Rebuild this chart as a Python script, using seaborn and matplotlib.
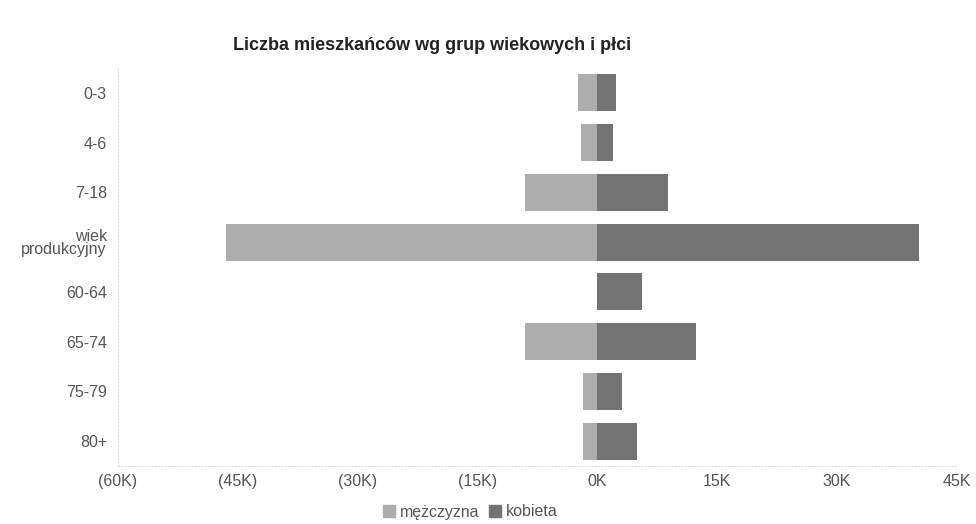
import numpy as np
import pandas as pd
import matplotlib
matplotlib.use("Agg")
import matplotlib.pyplot as plt
import seaborn as sns
from matplotlib.ticker import FuncFormatter
from matplotlib.patches import Patch

# Data (thousands of residents)
age_groups = ["0-3", "4-6", "7-18", "wiek\nprodukcyjny", "60-64", "65-74", "75-79", "80+"]
men = [2.4, 2.1, 9.0, 46.5, 0.0, 9.0, 1.8, 1.8]
women = [2.3, 2.0, 8.8, 40.2, 5.6, 12.3, 3.1, 4.9]
x_ticks = [-60, -45, -30, -15, 0, 15, 30, 45]

male_color = "#adadad"
female_color = "#737373"
text_color = "#555555"

sns.set_theme(style="white")
plt.rcParams["font.family"] = ["Liberation Sans", "DejaVu Sans"]

df = pd.DataFrame({
    "grupa": age_groups * 2,
    "plec": ["mężczyzna"] * len(age_groups) + ["kobieta"] * len(age_groups),
    "liczba": [-v for v in men] + women,
})

fig = plt.figure(figsize=(9.76, 5.24), dpi=100)
ax = fig.add_axes([0.1209, 0.1107, 0.8596, 0.7595])

sns.barplot(data=df, x="liczba", y="grupa", hue="plec", order=age_groups,
            hue_order=["mężczyzna", "kobieta"],
            palette={"mężczyzna": male_color, "kobieta": female_color},
            dodge=False, width=0.74, orient="h", ax=ax, legend=False,
            saturation=1, linewidth=0)

ax.set_xlim(-60, 45)
ax.set_xticks(x_ticks)
ax.xaxis.set_major_formatter(FuncFormatter(
    lambda v, _: f"({abs(v):.0f}K)" if v < 0 else f"{v:.0f}K"))
ax.set_xlabel("")
ax.set_ylabel("")
ax.tick_params(axis="both", length=0, labelsize=11.5, colors=text_color)
ax.tick_params(axis="y", pad=8)
ax.tick_params(axis="x", pad=6)
for lbl in ax.get_yticklabels():
    lbl.set_horizontalalignment("right")
    lbl.set_linespacing(0.9)

for side in ["top", "right"]:
    ax.spines[side].set_visible(False)
for side in ["left", "bottom"]:
    ax.spines[side].set_color("#dddddd")
    ax.spines[side].set_linestyle((0, (1, 2)))
    ax.spines[side].set_linewidth(0.8)

fig.text(233 / 976, 1 - 46 / 524, "Liczba mieszkańców wg grup wiekowych i płci",
         fontsize=13, fontweight="bold", color="#222222", ha="left", va="center")

handles = [Patch(color=male_color, label="mężczyzna"),
           Patch(color=female_color, label="kobieta")]
fig.legend(handles=handles, loc="center", bbox_to_anchor=(470 / 976, 1 - 512 / 524),
           ncol=2, frameon=False, fontsize=11.5, handlelength=0.75, handleheight=0.75,
           handletextpad=0.3, columnspacing=0.6, labelcolor=text_color)

fig.savefig("out.png", dpi=100)
